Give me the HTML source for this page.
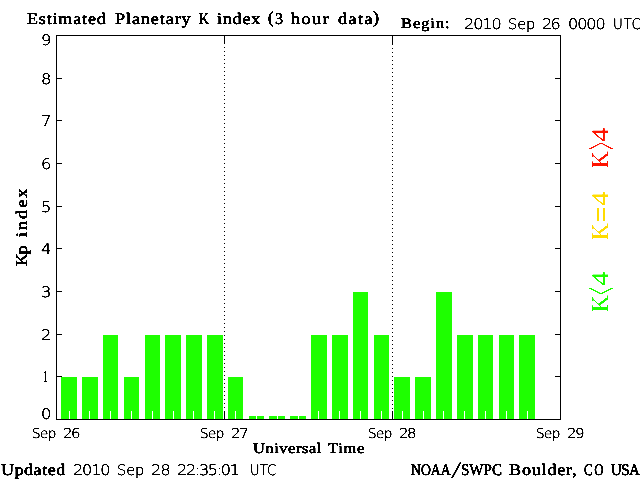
<!DOCTYPE html>
<html lang="en">
<head>
<meta charset="utf-8">
<title>Estimated Planetary K index (3 hour data)</title>
<style>
html,body{margin:0;padding:0;background:#fff;overflow:hidden}
body{width:640px;height:480px;position:relative}
svg{position:absolute;left:0;top:0;display:block}
text{text-rendering:geometricPrecision;stroke-linejoin:round;stroke-linecap:round}
.cx{font-family:"Liberation Serif","DejaVu Serif",serif;fill:#000;stroke:#000;stroke-width:0.52px}
.sx{font-family:"DejaVu Sans","Liberation Sans",sans-serif;font-weight:200;fill:#000;stroke:#000;stroke-width:0.37px}
.f{filter:url(#th)}
.g{shape-rendering:crispEdges}
</style>
</head>
<body>
<svg width="640" height="480" viewBox="0 0 640 480">
<defs>
<filter id="th" x="-5%" y="-5%" width="110%" height="110%" color-interpolation-filters="sRGB">
<feComponentTransfer><feFuncA type="linear" slope="4" intercept="-1.5"/></feComponentTransfer>
</filter>
</defs>
<rect width="640" height="480" fill="#fff"/>
<!-- bars: estimated planetary Kp, 3-hour values -->
<g class="g">
<g fill="#1eff00">
<rect x="61" y="377" width="16" height="42"/>
<rect x="82" y="377" width="16" height="42"/>
<rect x="103" y="335" width="15" height="84"/>
<rect x="124" y="377" width="15" height="42"/>
<rect x="145" y="335" width="15" height="84"/>
<rect x="165" y="335" width="16" height="84"/>
<rect x="186" y="335" width="16" height="84"/>
<rect x="207" y="335" width="16" height="84"/>
<rect x="228" y="377" width="15" height="42"/>
<rect x="249" y="416" width="15" height="3"/>
<rect x="269" y="416" width="16" height="3"/>
<rect x="290" y="416" width="16" height="3"/>
<rect x="311" y="335" width="16" height="84"/>
<rect x="332" y="335" width="16" height="84"/>
<rect x="353" y="292" width="15" height="127"/>
<rect x="374" y="335" width="15" height="84"/>
<rect x="394" y="377" width="16" height="42"/>
<rect x="415" y="377" width="16" height="42"/>
<rect x="436" y="292" width="16" height="127"/>
<rect x="457" y="335" width="16" height="84"/>
<rect x="478" y="335" width="15" height="84"/>
<rect x="499" y="335" width="15" height="84"/>
<rect x="519" y="335" width="16" height="84"/>
</g>
<!-- minor ticks drawn in background colour over the bars -->
<g fill="#fff">
<rect x="69" y="411" width="1" height="8"/>
<rect x="89" y="411" width="1" height="8"/>
<rect x="110" y="411" width="1" height="8"/>
<rect x="131" y="411" width="1" height="8"/>
<rect x="152" y="411" width="1" height="8"/>
<rect x="173" y="411" width="1" height="8"/>
<rect x="193" y="411" width="1" height="8"/>
<rect x="214" y="411" width="1" height="8"/>
<rect x="235" y="411" width="1" height="8"/>
<rect x="256" y="411" width="1" height="8"/>
<rect x="277" y="411" width="1" height="8"/>
<rect x="298" y="411" width="1" height="8"/>
<rect x="318" y="411" width="1" height="8"/>
<rect x="339" y="411" width="1" height="8"/>
<rect x="360" y="411" width="1" height="8"/>
<rect x="381" y="411" width="1" height="8"/>
<rect x="402" y="411" width="1" height="8"/>
<rect x="423" y="411" width="1" height="8"/>
<rect x="443" y="411" width="1" height="8"/>
<rect x="464" y="411" width="1" height="8"/>
<rect x="485" y="411" width="1" height="8"/>
<rect x="506" y="411" width="1" height="8"/>
<rect x="527" y="411" width="1" height="8"/>
</g>
<!-- plot frame, major ticks, day separators -->
<g fill="#000">
<rect x="56" y="35" width="505" height="1"/>
<rect x="56" y="419" width="505" height="1"/>
<rect x="56" y="35" width="1" height="385"/>
<rect x="560" y="35" width="1" height="385"/>
<rect x="57" y="376" width="5" height="1"/>
<rect x="555" y="376" width="5" height="1"/>
<rect x="57" y="334" width="5" height="1"/>
<rect x="555" y="334" width="5" height="1"/>
<rect x="57" y="291" width="5" height="1"/>
<rect x="555" y="291" width="5" height="1"/>
<rect x="57" y="248" width="5" height="1"/>
<rect x="555" y="248" width="5" height="1"/>
<rect x="57" y="206" width="5" height="1"/>
<rect x="555" y="206" width="5" height="1"/>
<rect x="57" y="163" width="5" height="1"/>
<rect x="555" y="163" width="5" height="1"/>
<rect x="57" y="120" width="5" height="1"/>
<rect x="555" y="120" width="5" height="1"/>
<rect x="57" y="78" width="5" height="1"/>
<rect x="555" y="78" width="5" height="1"/>
<rect x="224" y="36" width="1" height="8"/>
<rect x="224" y="411" width="1" height="8"/>
<rect x="224" y="47" width="1" height="1"/>
<rect x="224" y="51" width="1" height="1"/>
<rect x="224" y="55" width="1" height="1"/>
<rect x="224" y="59" width="1" height="1"/>
<rect x="224" y="63" width="1" height="1"/>
<rect x="224" y="67" width="1" height="1"/>
<rect x="224" y="71" width="1" height="1"/>
<rect x="224" y="75" width="1" height="1"/>
<rect x="224" y="79" width="1" height="1"/>
<rect x="224" y="83" width="1" height="1"/>
<rect x="224" y="87" width="1" height="1"/>
<rect x="224" y="91" width="1" height="1"/>
<rect x="224" y="95" width="1" height="1"/>
<rect x="224" y="99" width="1" height="1"/>
<rect x="224" y="103" width="1" height="1"/>
<rect x="224" y="107" width="1" height="1"/>
<rect x="224" y="111" width="1" height="1"/>
<rect x="224" y="115" width="1" height="1"/>
<rect x="224" y="119" width="1" height="1"/>
<rect x="224" y="123" width="1" height="1"/>
<rect x="224" y="127" width="1" height="1"/>
<rect x="224" y="131" width="1" height="1"/>
<rect x="224" y="135" width="1" height="1"/>
<rect x="224" y="139" width="1" height="1"/>
<rect x="224" y="143" width="1" height="1"/>
<rect x="224" y="147" width="1" height="1"/>
<rect x="224" y="151" width="1" height="1"/>
<rect x="224" y="155" width="1" height="1"/>
<rect x="224" y="159" width="1" height="1"/>
<rect x="224" y="163" width="1" height="1"/>
<rect x="224" y="167" width="1" height="1"/>
<rect x="224" y="171" width="1" height="1"/>
<rect x="224" y="175" width="1" height="1"/>
<rect x="224" y="179" width="1" height="1"/>
<rect x="224" y="183" width="1" height="1"/>
<rect x="224" y="187" width="1" height="1"/>
<rect x="224" y="191" width="1" height="1"/>
<rect x="224" y="195" width="1" height="1"/>
<rect x="224" y="199" width="1" height="1"/>
<rect x="224" y="203" width="1" height="1"/>
<rect x="224" y="207" width="1" height="1"/>
<rect x="224" y="211" width="1" height="1"/>
<rect x="224" y="215" width="1" height="1"/>
<rect x="224" y="219" width="1" height="1"/>
<rect x="224" y="223" width="1" height="1"/>
<rect x="224" y="227" width="1" height="1"/>
<rect x="224" y="231" width="1" height="1"/>
<rect x="224" y="235" width="1" height="1"/>
<rect x="224" y="239" width="1" height="1"/>
<rect x="224" y="243" width="1" height="1"/>
<rect x="224" y="247" width="1" height="1"/>
<rect x="224" y="251" width="1" height="1"/>
<rect x="224" y="255" width="1" height="1"/>
<rect x="224" y="259" width="1" height="1"/>
<rect x="224" y="263" width="1" height="1"/>
<rect x="224" y="267" width="1" height="1"/>
<rect x="224" y="271" width="1" height="1"/>
<rect x="224" y="275" width="1" height="1"/>
<rect x="224" y="279" width="1" height="1"/>
<rect x="224" y="283" width="1" height="1"/>
<rect x="224" y="287" width="1" height="1"/>
<rect x="224" y="291" width="1" height="1"/>
<rect x="224" y="295" width="1" height="1"/>
<rect x="224" y="299" width="1" height="1"/>
<rect x="224" y="303" width="1" height="1"/>
<rect x="224" y="307" width="1" height="1"/>
<rect x="224" y="311" width="1" height="1"/>
<rect x="224" y="315" width="1" height="1"/>
<rect x="224" y="319" width="1" height="1"/>
<rect x="224" y="323" width="1" height="1"/>
<rect x="224" y="327" width="1" height="1"/>
<rect x="224" y="331" width="1" height="1"/>
<rect x="224" y="335" width="1" height="1"/>
<rect x="224" y="339" width="1" height="1"/>
<rect x="224" y="343" width="1" height="1"/>
<rect x="224" y="347" width="1" height="1"/>
<rect x="224" y="351" width="1" height="1"/>
<rect x="224" y="355" width="1" height="1"/>
<rect x="224" y="359" width="1" height="1"/>
<rect x="224" y="363" width="1" height="1"/>
<rect x="224" y="367" width="1" height="1"/>
<rect x="224" y="371" width="1" height="1"/>
<rect x="224" y="375" width="1" height="1"/>
<rect x="224" y="379" width="1" height="1"/>
<rect x="224" y="383" width="1" height="1"/>
<rect x="224" y="387" width="1" height="1"/>
<rect x="224" y="391" width="1" height="1"/>
<rect x="224" y="395" width="1" height="1"/>
<rect x="224" y="399" width="1" height="1"/>
<rect x="224" y="403" width="1" height="1"/>
<rect x="224" y="407" width="1" height="1"/>
<rect x="392" y="36" width="1" height="8"/>
<rect x="392" y="411" width="1" height="8"/>
<rect x="392" y="44" width="1" height="1"/>
<rect x="392" y="48" width="1" height="1"/>
<rect x="392" y="52" width="1" height="1"/>
<rect x="392" y="56" width="1" height="1"/>
<rect x="392" y="60" width="1" height="1"/>
<rect x="392" y="64" width="1" height="1"/>
<rect x="392" y="68" width="1" height="1"/>
<rect x="392" y="72" width="1" height="1"/>
<rect x="392" y="76" width="1" height="1"/>
<rect x="392" y="80" width="1" height="1"/>
<rect x="392" y="84" width="1" height="1"/>
<rect x="392" y="88" width="1" height="1"/>
<rect x="392" y="92" width="1" height="1"/>
<rect x="392" y="96" width="1" height="1"/>
<rect x="392" y="100" width="1" height="1"/>
<rect x="392" y="104" width="1" height="1"/>
<rect x="392" y="108" width="1" height="1"/>
<rect x="392" y="112" width="1" height="1"/>
<rect x="392" y="116" width="1" height="1"/>
<rect x="392" y="120" width="1" height="1"/>
<rect x="392" y="124" width="1" height="1"/>
<rect x="392" y="128" width="1" height="1"/>
<rect x="392" y="132" width="1" height="1"/>
<rect x="392" y="136" width="1" height="1"/>
<rect x="392" y="140" width="1" height="1"/>
<rect x="392" y="144" width="1" height="1"/>
<rect x="392" y="148" width="1" height="1"/>
<rect x="392" y="152" width="1" height="1"/>
<rect x="392" y="156" width="1" height="1"/>
<rect x="392" y="160" width="1" height="1"/>
<rect x="392" y="164" width="1" height="1"/>
<rect x="392" y="168" width="1" height="1"/>
<rect x="392" y="172" width="1" height="1"/>
<rect x="392" y="176" width="1" height="1"/>
<rect x="392" y="180" width="1" height="1"/>
<rect x="392" y="184" width="1" height="1"/>
<rect x="392" y="188" width="1" height="1"/>
<rect x="392" y="192" width="1" height="1"/>
<rect x="392" y="196" width="1" height="1"/>
<rect x="392" y="200" width="1" height="1"/>
<rect x="392" y="204" width="1" height="1"/>
<rect x="392" y="208" width="1" height="1"/>
<rect x="392" y="212" width="1" height="1"/>
<rect x="392" y="216" width="1" height="1"/>
<rect x="392" y="220" width="1" height="1"/>
<rect x="392" y="224" width="1" height="1"/>
<rect x="392" y="228" width="1" height="1"/>
<rect x="392" y="232" width="1" height="1"/>
<rect x="392" y="236" width="1" height="1"/>
<rect x="392" y="240" width="1" height="1"/>
<rect x="392" y="244" width="1" height="1"/>
<rect x="392" y="248" width="1" height="1"/>
<rect x="392" y="252" width="1" height="1"/>
<rect x="392" y="256" width="1" height="1"/>
<rect x="392" y="260" width="1" height="1"/>
<rect x="392" y="264" width="1" height="1"/>
<rect x="392" y="268" width="1" height="1"/>
<rect x="392" y="272" width="1" height="1"/>
<rect x="392" y="276" width="1" height="1"/>
<rect x="392" y="280" width="1" height="1"/>
<rect x="392" y="284" width="1" height="1"/>
<rect x="392" y="288" width="1" height="1"/>
<rect x="392" y="292" width="1" height="1"/>
<rect x="392" y="296" width="1" height="1"/>
<rect x="392" y="300" width="1" height="1"/>
<rect x="392" y="304" width="1" height="1"/>
<rect x="392" y="308" width="1" height="1"/>
<rect x="392" y="312" width="1" height="1"/>
<rect x="392" y="316" width="1" height="1"/>
<rect x="392" y="320" width="1" height="1"/>
<rect x="392" y="324" width="1" height="1"/>
<rect x="392" y="328" width="1" height="1"/>
<rect x="392" y="332" width="1" height="1"/>
<rect x="392" y="336" width="1" height="1"/>
<rect x="392" y="340" width="1" height="1"/>
<rect x="392" y="344" width="1" height="1"/>
<rect x="392" y="348" width="1" height="1"/>
<rect x="392" y="352" width="1" height="1"/>
<rect x="392" y="356" width="1" height="1"/>
<rect x="392" y="360" width="1" height="1"/>
<rect x="392" y="364" width="1" height="1"/>
<rect x="392" y="368" width="1" height="1"/>
<rect x="392" y="372" width="1" height="1"/>
<rect x="392" y="376" width="1" height="1"/>
<rect x="392" y="380" width="1" height="1"/>
<rect x="392" y="384" width="1" height="1"/>
<rect x="392" y="388" width="1" height="1"/>
<rect x="392" y="392" width="1" height="1"/>
<rect x="392" y="396" width="1" height="1"/>
<rect x="392" y="400" width="1" height="1"/>
<rect x="392" y="404" width="1" height="1"/>
<rect x="392" y="408" width="1" height="1"/>
</g>
</g>
<g class="f">
<!-- title -->
<g><text class="cx" transform="translate(27.00,24.00) scale(1.12,1)" font-size="16.2" textLength="70.36" lengthAdjust="spacing">Estimated</text> <text class="cx" transform="translate(115.00,24.00) scale(1.12,1)" font-size="16.2" textLength="67.57" lengthAdjust="spacing">Planetary</text> <text class="cx" transform="translate(199.00,24.00) scale(0.8667,1)" font-size="16.2">K</text> <text class="cx" transform="translate(217.00,24.00) scale(1.12,1)" font-size="16.2" textLength="38.65" lengthAdjust="spacing">index</text> <text class="cx" transform="translate(268.00,23.00) scale(1.0000,1.0400)" font-size="16.2" style="stroke-width:0.6px;">(</text><text class="cx" transform="translate(275.00,24.00)" font-size="16.2">3</text> <text class="cx" transform="translate(291.00,24.00) scale(1.12,1)" font-size="16.2" textLength="33.48" lengthAdjust="spacing">hour</text> <text class="cx" transform="translate(338.00,24.00) scale(1.12,1)" font-size="16.2" textLength="30.78" lengthAdjust="spacing">data</text><text class="cx" transform="translate(373.00,23.00) scale(1.1200,1.0400)" font-size="16.2" style="stroke-width:0.6px;">)</text></g>
<!-- begin -->
<g><text class="cx" transform="translate(401.00,28.00) scale(1.12,1)" font-size="14.7" textLength="43.46" lengthAdjust="spacing">Begin:</text> <text class="sx" transform="translate(464.00,29.00) scale(1.1,1)" font-size="14.6" textLength="34.23" lengthAdjust="spacing">2010</text> <text class="sx" transform="translate(508.00,29.00)" font-size="14.6" textLength="27.32" lengthAdjust="spacing">Sep</text> <text class="sx" transform="translate(542.00,29.00) scale(1.1,1)" font-size="14.6" textLength="17.13" lengthAdjust="spacing">26</text> <text class="sx" transform="translate(568.00,29.00) scale(1.1,1)" font-size="14.6" textLength="34.23" lengthAdjust="spacing">0000</text> <text class="sx" transform="translate(613.00,29.00) scale(0.92,1)" font-size="14.6" textLength="30.24" lengthAdjust="spacing">UTC</text></g>
<!-- y axis labels -->
<g><text class="sx" transform="translate(41.00,45.00) scale(1.1143,1)" font-size="14.6">9</text> <text class="sx" transform="translate(41.00,84.00) scale(1.1143,1)" font-size="14.6">8</text> <text class="sx" transform="translate(41.00,126.00) scale(1.1143,1)" font-size="14.6">7</text> <text class="sx" transform="translate(41.00,169.00) scale(1.1143,1)" font-size="14.6">6</text> <text class="sx" transform="translate(41.00,212.00) scale(1.1143,1)" font-size="14.6">5</text> <text class="sx" transform="translate(41.00,254.00) scale(1.1143,1)" font-size="14.6">4</text> <text class="sx" transform="translate(41.00,297.00) scale(1.1143,1)" font-size="14.6">3</text> <text class="sx" transform="translate(41.00,340.00) scale(1.1143,1)" font-size="14.6">2</text> <text class="sx" transform="translate(43.00,382.00) scale(0.5429,1)" font-size="14.6">1</text> <text class="sx" transform="translate(41.00,419.00) scale(1.1143,1)" font-size="14.6">0</text></g>
<!-- y axis title -->
<g><text class="cx" transform="translate(27.00,266.00) rotate(-90) scale(1.12,1)" font-size="16.2" textLength="18.37" lengthAdjust="spacing">Kp</text> <text class="cx" transform="translate(27.00,237.00) rotate(-90) scale(1.12,1)" font-size="16.2" textLength="43.11" lengthAdjust="spacing">index</text></g>
<!-- legend -->
<g><text class="cx" transform="translate(608.00,168.00) rotate(-90) scale(0.9625,1.0000)" font-size="23.9" style="fill:#ff1400;stroke:#ff1400;stroke-width:0.1px;">K</text><text class="sx" transform="translate(617.00,150.00) rotate(-90) scale(0.4810,2.5517)" font-size="20" style="fill:#ff1400;stroke:#ff1400;stroke-width:0.12px;">&gt;</text><text class="cx" transform="translate(608.00,141.70) rotate(-90) scale(1.1762,1.0000)" font-size="23.9" style="fill:#ff1400;stroke:#ff1400;stroke-width:0.1px;">4</text> <text class="cx" transform="translate(608.00,240.00) rotate(-90) scale(0.9625,1.0000)" font-size="23.9" style="fill:#ffdc00;stroke:#ffdc00;stroke-width:0.1px;">K</text><text class="cx" transform="translate(610.83,222.39) rotate(-90) scale(1.3985,1.4815)" font-size="20.0" style="font-weight:bold;fill:#ffdc00;stroke:none">=</text><text class="cx" transform="translate(608.00,205.70) rotate(-90) scale(1.1762,1.0000)" font-size="23.9" style="fill:#ffdc00;stroke:#ffdc00;stroke-width:0.1px;">4</text> <text class="cx" transform="translate(608.00,312.00) rotate(-90) scale(0.9625,1.0000)" font-size="23.9" style="fill:#1eff00;stroke:#1eff00;stroke-width:0.1px;">K</text><text class="sx" transform="translate(617.00,295.00) rotate(-90) scale(0.4810,2.5699)" font-size="20" style="fill:#1eff00;stroke:#1eff00;stroke-width:0.12px;">&lt;</text><text class="cx" transform="translate(608.00,285.70) rotate(-90) scale(1.1762,1.0000)" font-size="23.9" style="fill:#1eff00;stroke:#1eff00;stroke-width:0.1px;">4</text></g>
<!-- x axis labels -->
<g><text class="sx" transform="translate(32.00,438.00)" font-size="13.6" textLength="24.43" lengthAdjust="spacing">Sep</text> <text class="sx" transform="translate(63.00,438.00) scale(1.1,1)" font-size="13.6" textLength="15.85" lengthAdjust="spacing">26</text> <text class="sx" transform="translate(200.00,438.00)" font-size="13.6" textLength="24.43" lengthAdjust="spacing">Sep</text> <text class="sx" transform="translate(231.00,438.00) scale(1.1,1)" font-size="13.6" textLength="16.11" lengthAdjust="spacing">27</text> <text class="sx" transform="translate(368.00,438.00)" font-size="13.6" textLength="24.43" lengthAdjust="spacing">Sep</text> <text class="sx" transform="translate(399.00,438.00) scale(1.1,1)" font-size="13.6" textLength="15.85" lengthAdjust="spacing">28</text> <text class="sx" transform="translate(536.00,438.00)" font-size="13.6" textLength="24.43" lengthAdjust="spacing">Sep</text> <text class="sx" transform="translate(567.00,438.00) scale(1.1,1)" font-size="13.6" textLength="15.85" lengthAdjust="spacing">29</text></g>
<!-- x axis title -->
<g><text class="cx" transform="translate(253.00,453.00) scale(1.12,1)" font-size="14.7" textLength="61.12" lengthAdjust="spacing">Universal</text> <text class="cx" transform="translate(328.00,453.00) scale(1.12,1)" font-size="14.7" textLength="32.39" lengthAdjust="spacing">Time</text></g>
<!-- updated -->
<g><text class="cx" transform="translate(1.00,475.00) scale(1.12,1)" font-size="16.2" textLength="57.35" lengthAdjust="spacing">Updated</text> <text class="sx" transform="translate(73.00,475.00) scale(1.1,1)" font-size="14.6" textLength="34.03" lengthAdjust="spacing">2010</text> <text class="sx" transform="translate(117.00,475.00)" font-size="14.6" textLength="27.32" lengthAdjust="spacing">Sep</text> <text class="sx" transform="translate(151.00,475.00) scale(1.1,1)" font-size="14.6" textLength="17.98" lengthAdjust="spacing">28</text> <text class="sx" transform="translate(177.00,475.00) scale(1.1,1)" font-size="14.6" textLength="57.24" lengthAdjust="spacing">22:35:01</text> <text class="sx" transform="translate(250.00,475.00) scale(0.9,1)" font-size="14.6" textLength="29.13" lengthAdjust="spacing">UTC</text></g>
<!-- source -->
<g><text class="cx" transform="translate(411.00,475.00) scale(0.85,1)" font-size="16.2" textLength="46.76" lengthAdjust="spacing">NOAA</text><text class="cx" transform="translate(451.00,478.00) scale(2.3307,1.4766)" font-size="16.2" style="stroke-width:0.05px;">/</text><text class="cx" transform="translate(461.00,475.00) scale(0.93,1)" font-size="16.2" textLength="44.10" lengthAdjust="spacing">SWPC</text> <text class="cx" transform="translate(509.00,475.00) scale(1.12,1)" font-size="16.2" textLength="60.46" lengthAdjust="spacing">Boulder,</text> <text class="cx" transform="translate(584.00,475.00) scale(0.8,1)" font-size="16.2" textLength="24.50" lengthAdjust="spacing">CO</text> <text class="cx" transform="translate(611.00,475.00) scale(0.93,1)" font-size="16.2" textLength="31.10" lengthAdjust="spacing">USA</text></g>
</g>
</svg>
</body>
</html>
